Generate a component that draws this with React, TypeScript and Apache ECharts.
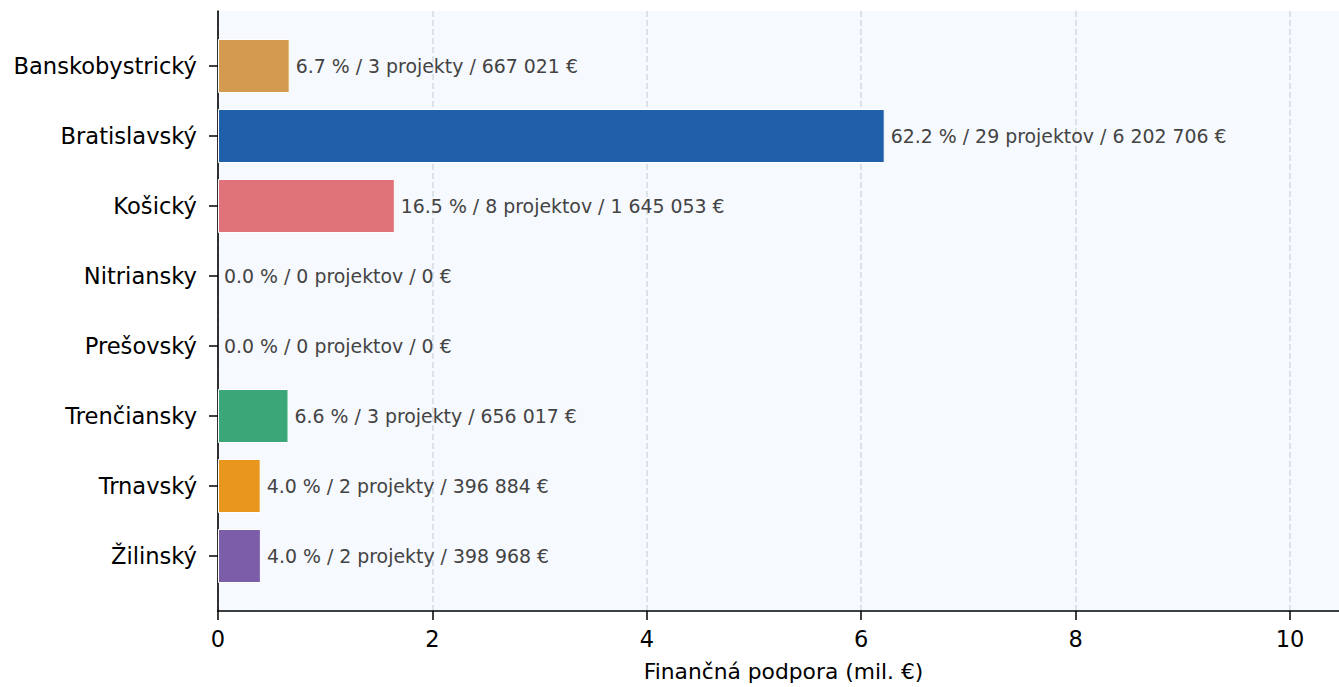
import React, { useEffect, useRef } from "react";
import * as echarts from "echarts";

const regions = ["Banskobystrický", "Bratislavský", "Košický", "Nitriansky", "Prešovský", "Trenčiansky", "Trnavský", "Žilinský"];
const amountsEur = [667021, 6202706, 1645053, 0, 0, 656017, 396884, 398968];
const percents = ["6.7", "62.2", "16.5", "0.0", "0.0", "6.6", "4.0", "4.0"];
const projectCounts = [3, 29, 8, 0, 0, 3, 2, 2];
const barColors = ["#d49b50", "#2060a8", "#e07379", "#5b8cc8", "#c5a84a", "#3ba677", "#e9961f", "#7c5ea8"];
const xTicks = [0, 2, 4, 6, 8, 10];

const FONT = "'DejaVu Sans', sans-serif";

function fmtEur(v: number): string {
  return String(v).replace(/\B(?=(\d{3})+(?!\d))/g, " ") + " €";
}
function projWord(n: number): string {
  return n >= 2 && n <= 4 ? "projekty" : n === 1 ? "projekt" : "projektov";
}

export default function App() {
  const ref = useRef<HTMLDivElement>(null);
  useEffect(() => {
    if (!ref.current) return;
    const chart = echarts.init(ref.current, null, { renderer: "svg" });
    const xMax = 10.55;
    const values = amountsEur.map((v) => v / 1e6);
    chart.setOption({
      animation: false,
      grid: [
        { left: 218, right: 0, top: 11, bottom: 75, show: true, backgroundColor: "#f6f9fe", borderWidth: 0 },
        { left: 218, right: 0, top: 31, height: 560 },
      ],
      xAxis: [
        {
          type: "value",
          gridIndex: 0,
          min: 0,
          max: xMax,
          interval: 2,
          axisLine: { show: true, lineStyle: { color: "#000", width: 1.6 } },
          axisTick: { show: true, length: 9, lineStyle: { color: "#000", width: 1.5 } },
          axisLabel: {
            margin: 16,
            color: "#000",
            fontSize: 22.5,
            fontFamily: FONT,
            formatter: (v: number) => (xTicks.includes(v) ? String(v) : ""),
          },
          splitLine: { show: true, lineStyle: { color: "#d5dae1", width: 1.5, type: [6, 3] } },
          name: "Finančná podpora (mil. €)",
          nameLocation: "middle",
          nameGap: 49,
          nameTextStyle: { color: "#000", fontSize: 21.8, fontFamily: FONT },
        },
        {
          type: "value",
          gridIndex: 1,
          min: 0,
          max: xMax,
          show: false,
        },
      ],
      yAxis: [
        {
          type: "value",
          gridIndex: 0,
          min: 0,
          max: 1,
          axisLine: { show: true, lineStyle: { color: "#000", width: 1.6 } },
          axisTick: { show: false },
          axisLabel: { show: false },
          splitLine: { show: false },
        },
        {
          type: "category",
          gridIndex: 1,
          data: regions,
          inverse: true,
          axisLine: { show: false },
          axisTick: { show: true, alignWithLabel: true, length: 9, lineStyle: { color: "#000", width: 1.5 } },
          axisLabel: { margin: 21, color: "#000", fontSize: 22.6, fontFamily: FONT },
        },
      ],
      series: [
        {
          type: "bar",
          xAxisIndex: 1,
          yAxisIndex: 1,
          barWidth: 54,
          data: values.map((v, i) => ({
            value: v,
            itemStyle: { color: barColors[i], borderColor: "#ffffff", borderWidth: v > 0 ? 1 : 0 },
          })),
          label: {
            show: true,
            position: "right",
            distance: 6,
            color: "#444444",
            fontSize: 18.9,
            fontFamily: FONT,
            formatter: (p: any) =>
              `${percents[p.dataIndex]} % / ${projectCounts[p.dataIndex]} ${projWord(projectCounts[p.dataIndex])} / ${fmtEur(amountsEur[p.dataIndex])}`,
          },
        },
      ],
    });
    return () => chart.dispose();
  }, []);
  return (
    <div
      ref={ref}
      style={{ position: "fixed", left: 0, top: 0, width: 1352, height: 687, background: "#fff" }}
    />
  );
}
